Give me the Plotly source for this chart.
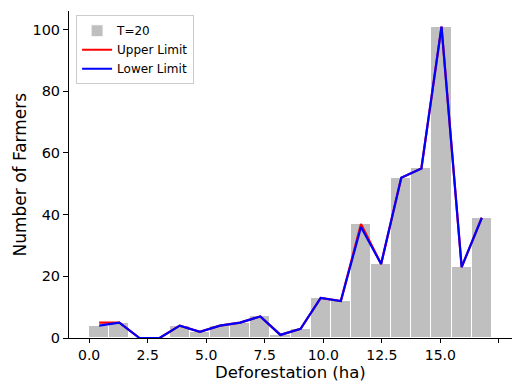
import numpy as np
import plotly.graph_objects as go

# Data
bin_lo, bin_hi, n_bins = 0.0, 17.2, 20
counts = [4, 5, 0, 0, 4, 2, 4, 5, 7, 1, 3, 13, 12, 37, 24, 52, 55, 101, 23, 39]
upper_limit = [5, 5, 0, 0, 4, 2, 4, 5, 7, 1, 3, 13, 12, 37, 24, 52, 55, 101, 23, 39]
lower_limit = [4, 5, 0, 0, 4, 2, 4, 5, 7, 1, 3, 13, 12, 36, 24, 52, 55, 101, 23, 39]
x_ticks = [0.0, 2.5, 5.0, 7.5, 10.0, 12.5, 15.0, 17.5]
y_ticks = [0, 20, 40, 60, 80, 100]
x_title = "Deforestation (ha)"
y_title = "Number of Farmers"

edges = np.linspace(bin_lo, bin_hi, n_bins + 1)
width = edges[1] - edges[0]
centers = (edges[:-1] + edges[1:]) / 2

FONT = "DejaVu Sans"
fig = go.Figure()
fig.add_trace(go.Bar(x=centers, y=counts, width=width, name="T=20",
                     marker=dict(color="#bfbfbf", line=dict(color="white", width=1))))
fig.add_trace(go.Scatter(x=centers, y=upper_limit, mode="lines", name="Upper Limit",
                         line=dict(color="red", width=2.2)))
fig.add_trace(go.Scatter(x=centers, y=lower_limit, mode="lines", name="Lower Limit",
                         line=dict(color="blue", width=2.2)))

span = bin_hi - bin_lo
ymax = max(max(counts), max(upper_limit)) * 1.05
fig.update_layout(
    width=514, height=381,
    margin=dict(l=69, r=2, t=10.6, b=42.7),
    plot_bgcolor="white", paper_bgcolor="white",
    font=dict(family=FONT, color="black"),
    bargap=0,
    showlegend=True,
    legend=dict(x=0.016, y=0.987, xanchor="left", yanchor="top",
                bgcolor="rgba(255,255,255,0.8)", bordercolor="#cccccc", borderwidth=1,
                font=dict(size=12, family=FONT), tracegroupgap=0, itemwidth=30),
    xaxis=dict(range=[bin_lo - 0.05 * span, bin_hi + 0.05 * span],
               tickvals=x_ticks, ticktext=[f"{v:.1f}" for v in x_ticks],
               ticks="outside", ticklen=4, tickwidth=1, tickcolor="black",
               showline=True, linecolor="black", linewidth=1, showgrid=False, zeroline=False,
               tickfont=dict(size=14, family=FONT)),
    yaxis=dict(range=[0, ymax], tickvals=y_ticks,
               ticks="outside", ticklen=5, tickwidth=1, tickcolor="black",
               showline=True, linecolor="black", linewidth=1, showgrid=False, zeroline=False,
               tickfont=dict(size=14.5, family=FONT)),
    annotations=[
        dict(text=x_title, xref="paper", yref="paper", x=0.5, y=0, xanchor="center",
             yanchor="middle", yshift=-34.5, showarrow=False, font=dict(size=16.5, family=FONT)),
        dict(text=y_title, xref="paper", yref="paper", x=0, y=0.5, xanchor="center",
             yanchor="middle", xshift=-50, textangle=-90, showarrow=False,
             font=dict(size=17, family=FONT)),
    ],
)
fig.write_html("out.html")
